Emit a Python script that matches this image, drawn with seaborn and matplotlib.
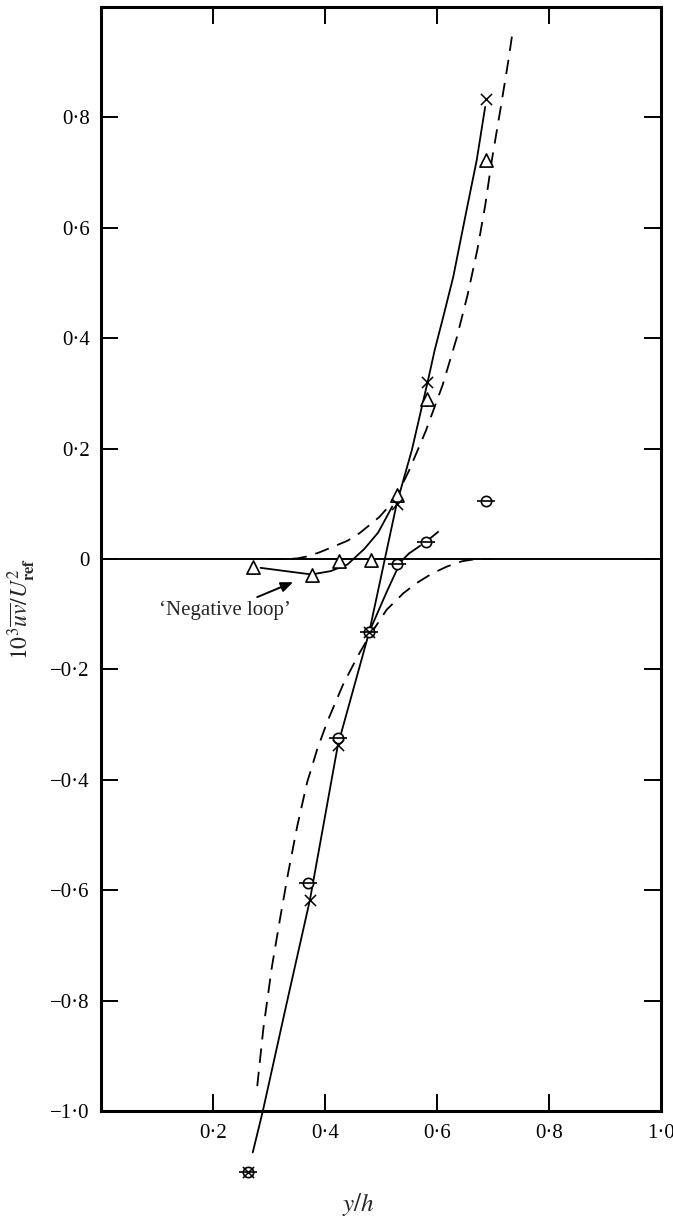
import matplotlib
matplotlib.use("Agg")
import matplotlib.pyplot as plt
import seaborn as sns
import numpy as np

# ---------------- data ----------------
# measured points
cross_x = [0.263, 0.373, 0.423, 0.479, 0.528, 0.583, 0.688]
cross_y = [-1.11, -0.618, -0.337, -0.132, 0.100, 0.320, 0.833]

circ_x = [0.263, 0.370, 0.423, 0.479, 0.528, 0.580, 0.687]
circ_y = [-1.11, -0.587, -0.325, -0.132, -0.009, 0.031, 0.105]

tri_x = [0.271, 0.376, 0.425, 0.482, 0.528, 0.583, 0.688]
tri_y = [-0.014, -0.029, -0.004, -0.002, 0.116, 0.290, 0.723]

# hand-drawn curves (traced)
solid_main_x = [0.271, 0.289, 0.330, 0.373, 0.423, 0.479, 0.528, 0.555, 0.584, 0.596,
                0.611, 0.629, 0.641, 0.654, 0.671, 0.686]
solid_main_y = [-1.075, -1.0, -0.812, -0.618, -0.337, -0.132, 0.100, 0.197, 0.324, 0.379,
                0.438, 0.511, 0.572, 0.638, 0.723, 0.819]

solid_branch_x = [0.479, 0.510, 0.535, 0.550]
solid_branch_y = [-0.132, -0.060, -0.005, 0.010]
dash_branch_x = [0.550, 0.580, 0.603]
dash_branch_y = [0.010, 0.031, 0.050]

loop_x = [0.285, 0.330, 0.376, 0.410, 0.440, 0.470, 0.495, 0.520]
loop_y = [-0.016, -0.022, -0.028, -0.022, -0.010, 0.018, 0.048, 0.095]

dash_up_x = [0.300, 0.330, 0.350, 0.370, 0.390, 0.414, 0.440, 0.462, 0.497, 0.525, 0.550,
             0.580, 0.610, 0.635, 0.655, 0.672, 0.686, 0.698, 0.713, 0.727, 0.735]
dash_up_y = [0.0, 0.0, 0.001, 0.005, 0.012, 0.022, 0.033, 0.047, 0.076, 0.108, 0.160,
             0.232, 0.315, 0.400, 0.480, 0.560, 0.640, 0.723, 0.813, 0.900, 0.955]

dash_low_x = [0.279, 0.290, 0.305, 0.320, 0.334, 0.350, 0.368, 0.386, 0.404, 0.432, 0.459,
              0.479, 0.510, 0.540, 0.563, 0.590, 0.617, 0.645, 0.670, 0.700]
dash_low_y = [-0.955, -0.850, -0.740, -0.650, -0.570, -0.486, -0.405, -0.345, -0.295, -0.228,
              -0.175, -0.140, -0.092, -0.062, -0.044, -0.027, -0.014, -0.004, 0.0, 0.0]

xticks = [0.2, 0.4, 0.6, 0.8, 1.0]
xtick_labels = ["0·2", "0·4", "0·6", "0·8", "1·0"]
yticks = [-1.0, -0.8, -0.6, -0.4, -0.2, 0.0, 0.2, 0.4, 0.6, 0.8]
ytick_labels = ["−1·0", "−0·8", "−0·6", "−0·4", "−0·2", "0", "0·2", "0·4", "0·6", "0·8"]

annot_text = "‘Negative loop’"
annot_text_xy = (0.221, -0.092)
annot_tail = (0.279, -0.069)
annot_tip = (0.343, -0.042)

# ---------------- styling ----------------
sns.set_theme(style="ticks")
plt.rcParams["font.family"] = ["Liberation Serif", "DejaVu Serif"]
plt.rcParams["mathtext.fontset"] = "stix"

fig = plt.figure(figsize=(6.73, 12.19), dpi=100)
ax = fig.add_axes([101 / 673, 108 / 1219, 560 / 673, 1104 / 1219])

lw = 1.3
dash = (8, 5)

ax.axhline(0, color="black", lw=1.4, zorder=1)

def curve(x, y, dashed=False):
    sns.lineplot(x=x, y=y, sort=False, estimator=None, color="black", lw=lw, ax=ax)
    ln = ax.lines[-1]
    ln.set_clip_on(False)
    if dashed:
        ln.set_dashes(dash)
    return ln

curve(solid_main_x, solid_main_y)
curve(solid_branch_x, solid_branch_y)
curve(dash_branch_x, dash_branch_y, dashed=True)
curve(loop_x, loop_y)
curve(dash_up_x, dash_up_y, dashed=True)
curve(dash_low_x, dash_low_y, dashed=True)

# markers
sns.scatterplot(x=tri_x, y=tri_y, marker="^", s=90, facecolor="white",
                edgecolor="black", linewidth=1.2, ax=ax, zorder=5, clip_on=False)
sns.scatterplot(x=circ_x, y=circ_y, marker="o", s=55, facecolor="white",
                edgecolor="black", linewidth=1.2, ax=ax, zorder=6, clip_on=False)
sns.scatterplot(x=circ_x, y=circ_y, marker="_", s=180, color="black",
                linewidth=1.2, ax=ax, zorder=7, clip_on=False)
sns.scatterplot(x=cross_x, y=cross_y, marker="x", s=65, color="black",
                linewidth=1.1, ax=ax, zorder=8, clip_on=False)

# annotation
ax.text(annot_text_xy[0], annot_text_xy[1], annot_text, fontsize=15,
        ha="center", va="center")
ax.annotate("", xy=annot_tip, xytext=annot_tail,
            arrowprops=dict(arrowstyle="-|>,head_length=0.6,head_width=0.25",
                            color="black", lw=1.4, shrinkA=0, shrinkB=0))

# axes
ax.set_xlim(0, 1.0)
ax.set_ylim(-1.0, 1.0)
ax.set_xticks(xticks)
ax.set_xticklabels(xtick_labels)
ax.set_yticks(yticks)
ax.set_yticklabels(ytick_labels)
ax.tick_params(direction="in", length=12, width=1.4, top=True, right=True,
               labelsize=15, pad=9, colors="black")
ax.tick_params(axis="y", pad=8)
for sp in ax.spines.values():
    sp.set_linewidth(2.2)
    sp.set_color("black")

ax.set_xlabel(r"$y/h$", fontsize=18, va="center")
ax.set_ylabel(r"$10^3\overline{uv}/U^2_{\mathbf{ref}}$", fontsize=17)
ax.xaxis.set_label_coords(0.46, -0.085)
ax.yaxis.set_label_coords(-0.112, 0.455)
ax.set_facecolor("white")
fig.patch.set_facecolor("white")

fig.savefig("out.png", dpi=100)
